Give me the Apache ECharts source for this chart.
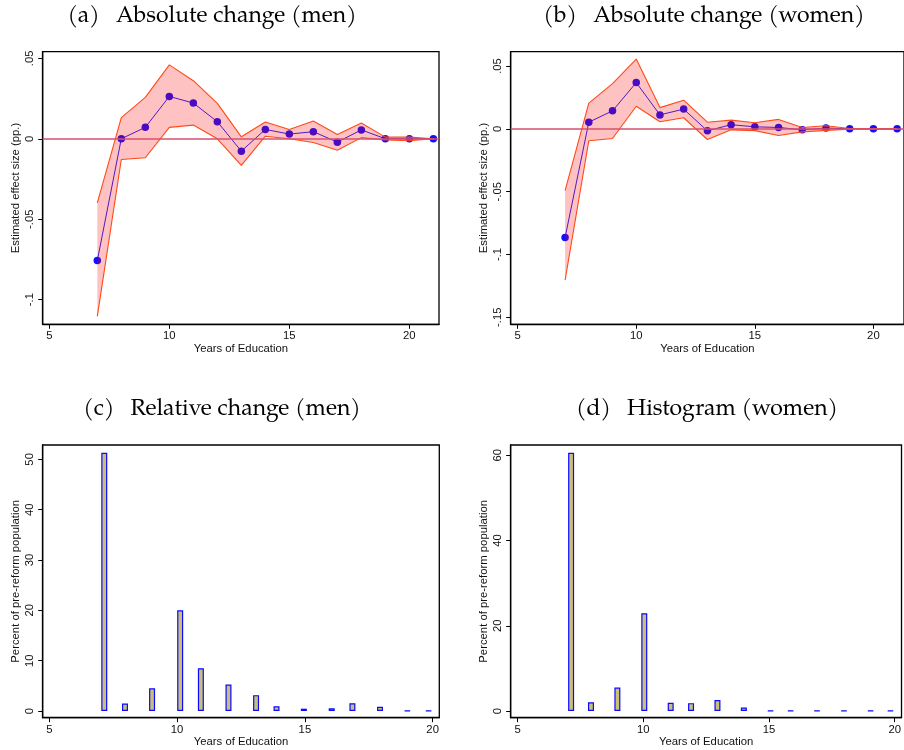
<!DOCTYPE html>
<html>
<head>
<meta charset="utf-8">
<script src="https://cdn.jsdelivr.net/npm/echarts@6/dist/echarts.min.js"></script>
<style>
html,body{margin:0;padding:0;background:#fff;}
#chart{width:904px;height:750px;}
</style>
</head>
<body>
<div id="chart"></div>
<script>
// ---------- data ----------
const years = [7, 8, 9, 10, 11, 12, 13, 14, 15, 16, 17, 18, 19, 20, 21];

// (a) Absolute change (men)
const menEst   = [-0.0757, 0.0000, 0.0071, 0.0263, 0.0222, 0.0106, -0.0077, 0.0058, 0.0029, 0.0044, -0.0021, 0.0055, 0.0000, 0.0000, 0.0000];
const menUpper = [-0.0398, 0.0131, 0.0257, 0.0459, 0.0361, 0.0220, 0.0012, 0.0104, 0.0058, 0.0110, 0.0027, 0.0098, 0.0010, 0.0010, 0.0000];
const menLower = [-0.1104, -0.0129, -0.0118, 0.0071, 0.0085, 0.0000, -0.0166, 0.0016, 0.0000, -0.0023, -0.0071, 0.0007, -0.0008, -0.0012, 0.0000];

// (b) Absolute change (women)
const womenEst   = [-0.0865, 0.0053, 0.0143, 0.0368, 0.0111, 0.0157, -0.0016, 0.0033, 0.0016, 0.0011, -0.0008, 0.0006, 0.0000, 0.0000, 0.0000];
const womenUpper = [-0.0492, 0.0205, 0.0360, 0.0555, 0.0169, 0.0228, 0.0053, 0.0069, 0.0048, 0.0075, 0.0010, 0.0024, 0.0003, 0.0000, 0.0000];
const womenLower = [-0.1204, -0.0095, -0.0077, 0.0180, 0.0056, 0.0088, -0.0085, -0.0008, -0.0014, -0.0053, -0.0024, -0.0012, -0.0003, 0.0000, 0.0000];

// (c) Relative change (men) - histogram bins
const menBinX   = [7.15, 7.96, 9.02, 10.12, 10.93, 12.01, 13.09, 13.89, 14.96, 16.05, 16.86, 17.94, 19.01, 19.84];
const menPct    = [51.3, 1.5, 4.5, 20.0, 8.5, 5.25, 3.15, 0.93, 0.46, 0.53, 1.55, 0.83, 0.08, 0.08];

// (d) Histogram (women)
const womenBinX = [7.13, 7.92, 8.97, 10.04, 11.09, 11.90, 12.95, 14.00, 15.06, 15.86, 16.91, 17.98, 19.04, 19.83];
const womenPct  = [60.6, 2.07, 5.5, 22.95, 1.92, 1.84, 2.58, 0.82, 0.1, 0.1, 0.1, 0.1, 0.1, 0.1];

// tick values and labels
const xTicks = [5, 10, 15, 20];
const aYTicks = [-0.1, -0.05, 0, 0.05];
const bYTicks = [-0.15, -0.1, -0.05, 0, 0.05];
const cYTicks = [0, 10, 20, 30, 40, 50];
const dYTicks = [0, 20, 40, 60];

const panelTitles = ['(a)\u2002\u2009Absolute change (men)', '(b)\u2002\u2009Absolute change (women)',
                     '(c)\u2002\u2009Relative change (men)', '(d)\u2002\u2009Histogram (women)'];
const effectLabel = 'Estimated effect size (pp.)';
const pctLabel = 'Percent of pre-reform population';
const xLabel = 'Years of Education';

// ---------- styling ----------
const SANS = '"Liberation Sans", Arial, Helvetica, sans-serif';
const SERIF = '"TeX Gyre Pagella", "Palatino Linotype", Palatino, "Liberation Serif", serif';
const TXT = '#111';
const fmtStata = v => (v === 0 ? '0' : String(+v.toFixed(4)).replace('0.', '.'));

function xAxisCfg(gi, min, max) {
  return {
    type: 'value', gridIndex: gi, min: min, max: max,
    name: xLabel, nameLocation: 'middle', nameGap: 19,
    nameTextStyle: {fontFamily: SANS, fontSize: 11.3, color: TXT},
    axisLine: {show: true, onZero: false, lineStyle: {color: '#000', width: 1.3}},
    axisTick: {show: true, length: 4.5, customValues: xTicks, lineStyle: {color: '#000', width: 1}},
    axisLabel: {customValues: xTicks, margin: 6.5, fontFamily: SANS, fontSize: 11.3, color: TXT},
    splitLine: {show: false}
  };
}
function yAxisCfg(gi, min, max, ticks, name, fmt) {
  return {
    type: 'value', gridIndex: gi, min: min, max: max,
    name: name, nameLocation: 'middle', nameGap: 21,
    nameTextStyle: {fontFamily: SANS, fontSize: 11.3, color: TXT},
    axisLine: {show: true, onZero: false, lineStyle: {color: '#000', width: 1.3}},
    axisTick: {show: true, length: 4.5, customValues: ticks, lineStyle: {color: '#000', width: 1}},
    axisLabel: {customValues: ticks, rotate: 90, margin: 7, fontFamily: SANS, fontSize: 11.3, color: TXT,
                formatter: fmt},
    splitLine: {show: false}
  };
}

function bandSeries(idx, xs, up, lo) {
  return {
    type: 'custom', xAxisIndex: idx, yAxisIndex: idx, z: 3, silent: true,
    data: xs.map((x, i) => [x, up[i], lo[i]]),
    encode: {x: 0, y: [1, 2]},
    renderItem: function (params, api) {
      if (params.dataIndex !== 0) return null;
      const pts = [];
      for (let i = 0; i < xs.length; i++) pts.push(api.coord([xs[i], up[i]]));
      for (let i = xs.length - 1; i >= 0; i--) pts.push(api.coord([xs[i], lo[i]]));
      return {type: 'polygon', shape: {points: pts}, style: {fill: 'rgba(255,0,0,0.24)', stroke: null}};
    }
  };
}
function ciLine(idx, xs, vals) {
  return {
    type: 'line', xAxisIndex: idx, yAxisIndex: idx, z: 4, silent: true,
    data: xs.map((x, i) => [x, vals[i]]),
    showSymbol: false, symbol: 'none',
    lineStyle: {color: '#ff4a18', width: 1.1}
  };
}
function estSeries(idx, xs, vals) {
  return {
    type: 'line', xAxisIndex: idx, yAxisIndex: idx, z: 2, silent: true,
    data: xs.map((x, i) => [x, vals[i]]),
    symbol: 'circle', symbolSize: 7.5,
    itemStyle: {color: '#1010ff'},
    lineStyle: {color: '#2020ff', width: 1},
    markLine: {
      silent: true, symbol: 'none', label: {show: false},
      lineStyle: {color: '#d4506f', width: 1.6, type: 'solid'},
      data: [{yAxis: 0}]
    }
  };
}
function barSeries(idx, xs, vals) {
  return {
    type: 'bar', xAxisIndex: idx, yAxisIndex: idx, silent: true,
    data: xs.map((x, i) => [x, vals[i]]),
    barWidth: 6,
    itemStyle: {color: '#cbbf78', borderColor: '#0a0aff', borderWidth: 1.2}
  };
}

const grids = [
  {left: 42.7, top: 51.7, width: 396.3, height: 272.6},
  {left: 510.7, top: 51.7, width: 396.3, height: 272.6},
  {left: 42.7, top: 445, width: 396.6, height: 272.7},
  {left: 510.7, top: 445, width: 397.8, height: 272.7}
].map(g => Object.assign(g, {show: true, borderColor: '#000', borderWidth: 1.3, backgroundColor: 'transparent', containLabel: false}));

const titlePos = [[212, 17], [704, 17], [222, 410], [707, 410]];

const option = {
  animation: false,
  backgroundColor: '#fff',
  grid: grids,
  xAxis: [
    xAxisCfg(0, 4.725, 21.235),
    xAxisCfg(1, 4.707, 21.29),
    xAxisCfg(2, 4.74, 20.26),
    xAxisCfg(3, 4.727, 20.27)
  ],
  yAxis: [
    yAxisCfg(0, -0.1153, 0.0541, aYTicks, effectLabel, fmtStata),
    yAxisCfg(1, -0.1556, 0.0614, bYTicks, effectLabel, fmtStata),
    yAxisCfg(2, -1.33, 52.85, cYTicks, pctLabel, v => String(v)),
    yAxisCfg(3, -1.57, 62.42, dYTicks, pctLabel, v => String(v))
  ],
  series: [
    estSeries(0, years, menEst),
    bandSeries(0, years, menUpper, menLower),
    ciLine(0, years, menUpper),
    ciLine(0, years, menLower),
    estSeries(1, years, womenEst),
    bandSeries(1, years, womenUpper, womenLower),
    ciLine(1, years, womenUpper),
    ciLine(1, years, womenLower),
    barSeries(2, menBinX, menPct),
    barSeries(3, womenBinX, womenPct)
  ],
  graphic: panelTitles.map((t, i) => ({
    type: 'text', x: titlePos[i][0], y: titlePos[i][1], silent: true,
    style: {text: t, fontFamily: SERIF, fontSize: 23, fill: '#000',
            textAlign: 'center', textVerticalAlign: 'middle'}
  }))
};

const chart = echarts.init(document.getElementById('chart'), null, {renderer: 'canvas', width: 904, height: 750});
chart.setOption(option);
</script>
</body>
</html>
